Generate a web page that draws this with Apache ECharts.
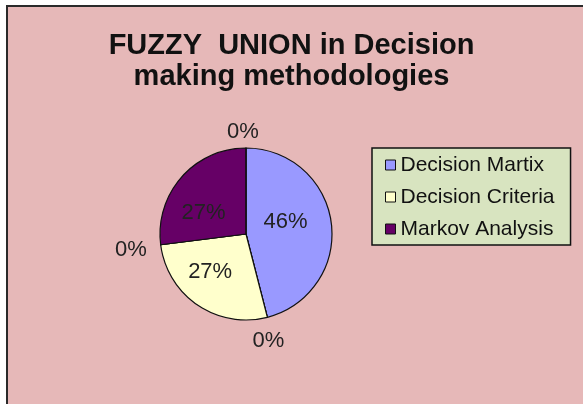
<!DOCTYPE html>
<html>
<head>
<meta charset="utf-8">
<script src="https://cdn.jsdelivr.net/npm/echarts@6/dist/echarts.min.js"></script>
<style>
html,body{margin:0;padding:0;background:#fff;}
#c{width:583px;height:404px;}
</style>
</head>
<body>
<div id="c"></div>
<script>
var categories = ['Decision Martix', 'Decision Criteria', 'Markov Analysis'];
var values = [46, 27, 27];
var zeroValues = [0, 0, 0];
var sliceColors = ['#9999FF', '#FFFFCC', '#660066'];
var titleLines = ['FUZZY  UNION in Decision', 'making methodologies'];

// label style nudges (interleaved order: slice, zero, slice, zero, ...)
var zeroLen = [20, 30, 17];
var nudge = [[-6, -6], [-9, 4], [-10, 0], [5, 1], [-8, 9], [-8, 1]];

var data = [];
for (var i = 0; i < categories.length; i++) {
  data.push({
    name: categories[i],
    value: values[i],
    itemStyle: { color: sliceColors[i] },
    label: { show: true, position: 'inside' }
  });
  data.push({
    name: 'zero' + i,
    value: zeroValues[i],
    itemStyle: { color: '#000' },
    label: { show: true, position: 'outside' },
    labelLine: { show: false, length: zeroLen[i], length2: 0 }
  });
}

var chart = echarts.init(document.getElementById('c'), null, { renderer: 'canvas' });
chart.setOption({
  backgroundColor: '#ffffff',
  animation: false,
  graphic: [{
    type: 'rect',
    shape: { x: 7, y: 6, width: 620, height: 430 },
    style: { fill: '#E6B8B8', stroke: '#2a2a2a', lineWidth: 2 },
    z: -10
  }],
  title: {
    text: titleLines.join('\n'),
    left: 'center',
    top: 25,
    padding: [5, 8, 5, 0],
    textStyle: {
      fontFamily: 'Liberation Sans, Arial, sans-serif',
      fontWeight: 'bold',
      fontSize: 29,
      lineHeight: 31,
      color: '#111'
    }
  },
  legend: {
    data: categories,
    orient: 'vertical',
    left: 372,
    top: 148,
    backgroundColor: '#D8E4C0',
    borderColor: '#111',
    borderWidth: 1.5,
    borderRadius: 0,
    padding: [6, 16, 5, 13],
    itemWidth: 10,
    itemHeight: 10,
    itemGap: 10,
    icon: 'rect',
    itemStyle: { borderColor: '#111', borderWidth: 1 },
    textStyle: {
      fontFamily: 'Liberation Sans, Arial, sans-serif',
      fontSize: 21,
      lineHeight: 22,
      color: '#111'
    }
  },
  series: [{
    type: 'pie',
    center: [246, 234],
    radius: 86,
    startAngle: 90,
    clockwise: true,
    avoidLabelOverlap: false,
    percentPrecision: 0,
    legendHoverLink: false,
    itemStyle: { borderColor: '#111', borderWidth: 1.2 },
    label: {
      formatter: '{d}%',
      fontFamily: 'Liberation Sans, Arial, sans-serif',
      fontSize: 22,
      color: '#222'
    },
    labelLayout: function (p) {
      var n = nudge[p.dataIndex] || [0, 0];
      var o = { dx: n[0], dy: n[1] };
      if (p.dataIndex % 2 === 1) { o.align = 'center'; }
      return o;
    },
    data: data
  }]
});
</script>
</body>
</html>
